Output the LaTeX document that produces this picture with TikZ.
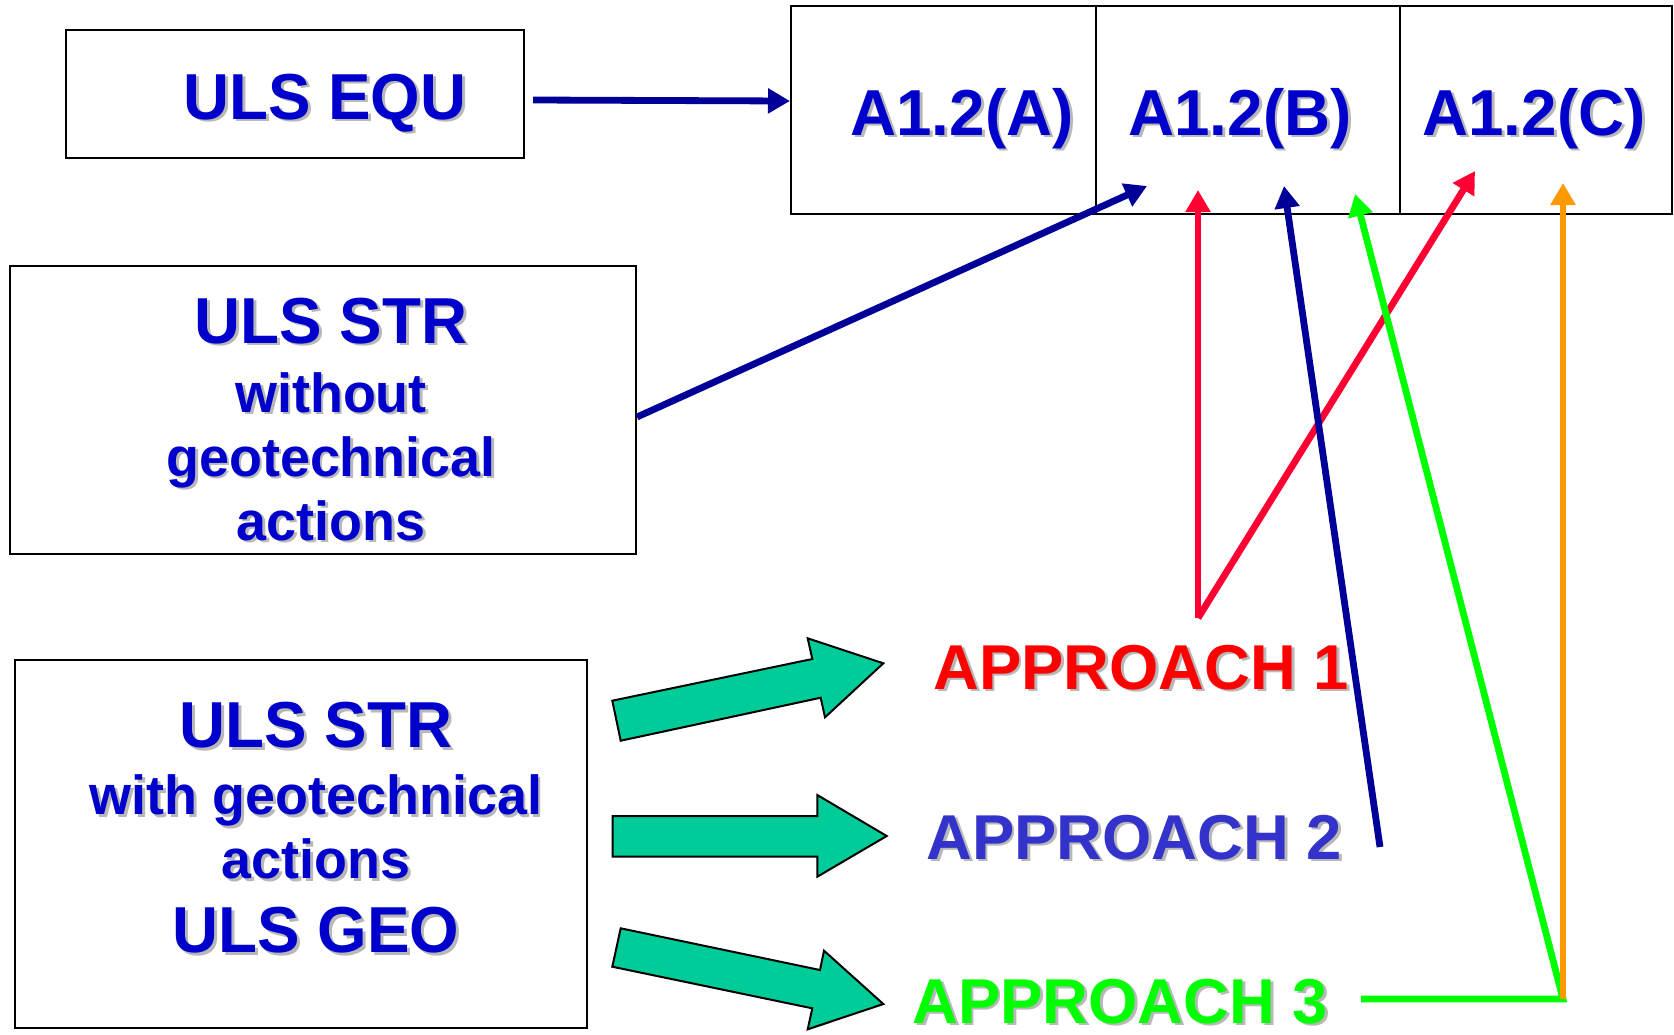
\documentclass[tikz,border=0pt]{standalone}
\usepackage{fontspec}
\setmainfont{Liberation Sans}[FakeStretch=0.98]
\newfontfamily\apfont{Liberation Sans}
\usetikzlibrary{arrows.meta}
\definecolor{txtblue}{HTML}{0000CC}
\definecolor{cNavy}{HTML}{000099}
\definecolor{cRedTxt}{HTML}{FF0000}
\definecolor{cRed}{HTML}{FF0033}
\definecolor{cViolet}{HTML}{3333CC}
\definecolor{cGreen}{HTML}{00FF00}
\definecolor{cOrange}{HTML}{FF9900}
\definecolor{cBlock}{HTML}{00CC99}
\definecolor{shgray}{HTML}{B8B8B8}
\newcommand\shd[1]{\leavevmode\rlap{\kern1.4pt\raisebox{-1.4pt}{\color{shgray}#1}}#1}
\begin{document}
\begin{tikzpicture}[x=0.5pt,y=-0.5pt,
  box/.style={draw=black,line width=1pt,inner sep=0pt},
  big/.style={font=\bfseries\fontsize{32.5}{32}\selectfont,text=txtblue,inner sep=0pt},
  small/.style={font=\bfseries\fontsize{27.5}{32}\selectfont,text=txtblue,inner sep=0pt,align=center},
  appr/.style={font=\apfont\bfseries\fontsize{31.7}{32}\selectfont,inner sep=0pt,anchor=base west},
  conn/.style={line width=3.4pt,-{Triangle[length=11pt,width=12pt]}},
  blockarrow/.style={fill=cBlock,draw=black,line width=1pt,line join=miter}]
\useasboundingbox (0,0) rectangle (1674,1034);
% top-left box
\node[box,minimum width=229pt,minimum height=64pt] (e1) at (295,94) {};
\node[big,anchor=base] (e1t) at (325,119) {\shd{ULS EQU}};
% table
\node[box,minimum width=152.5pt,minimum height=104pt] (cA) at (943.5,110) {};
\node[box,minimum width=152pt,minimum height=104pt] (cB) at (1248,110) {};
\node[box,minimum width=136pt,minimum height=104pt] (cC) at (1536,110) {};
\node[big,anchor=base] (tA) at (962,135) {\shd{A1.2(A)}};
\node[big,anchor=base] (tB) at (1240,135) {\shd{A1.2(B)}};
\node[big,anchor=base] (tC) at (1534,135) {\shd{A1.2(C)}};
% ULS STR without
\node[box,minimum width=313pt,minimum height=144pt] (s2) at (323,410) {};
\node[small] (s2t) at (331,420.5) {{\fontsize{32.5}{32}\selectfont\shd{ULS STR}}\\[2.5pt]\shd{without}\\\shd{geotechnical}\\\shd{actions}};
% ULS STR with
\node[box,minimum width=286pt,minimum height=184pt] (s3) at (301,844) {};
\node[small] (s3t) at (316,829) {{\fontsize{32.5}{32}\selectfont\shd{ULS STR}}\\[1.5pt]\shd{with geotechnical}\\\shd{actions}\\[5pt]{\fontsize{32.5}{32}\selectfont\shd{ULS GEO}}};
% approaches
\node[appr,text=cRedTxt] (ap1) at (933,689) {\shd{APPROACH 1}};
\node[appr,text=cViolet] (ap2) at (926,859) {\shd{APPROACH 2}};
\node[appr,text=cGreen] (ap3) at (912,1023) {\shd{APPROACH 3}};
% block arrows
\draw[blockarrow] (612.3,700.7) -- (812.3,659) -- (807.7,638.3) -- (883.3,663.3) -- (825,717.3) -- (820.7,697.7) -- (620.7,740.7) -- cycle;
\draw[blockarrow] (612.7,816) -- (817.3,816) -- (817.3,795) -- (886.7,836) -- (817.3,876.7) -- (817.3,856.7) -- (612.7,856.7) -- cycle;
\draw[blockarrow] (620.7,928.3) -- (820,970) -- (824,950.7) -- (883.3,1004) -- (807.7,1029.3) -- (812.3,1008.3) -- (612.3,966.7) -- cycle;
% connector coordinates
\coordinate (tB1) at (1147,186);
\coordinate (r0) at (1198,618);
\coordinate (tB2) at (1198,190);
\coordinate (tC1) at (1475,171);
\coordinate (n0) at (1380,847);
\coordinate (tB3) at (1284,186);
\coordinate (g0) at (1361,999);
\coordinate (g1) at (1563,999);
\coordinate (tB4) at (1355,194);
\coordinate (tC2) at (1563,183);
% connectors
\draw[conn,cNavy] ([xshift=4pt,yshift=-3pt]e1.east) -- ([yshift=4.5pt]cA.west);
\draw[conn,cNavy] ([yshift=-3.5pt]s2.east) -- (tB1);
\draw[conn,cRed] (r0) -- (tB2);
\draw[conn,cRed] (r0) -- (tC1);
\draw[conn,cNavy] (n0) -- (tB3);
\draw[conn,cGreen] (g0) -- (g1) -- (tB4);
\draw[conn,cOrange] (g1) -- (tC2);
\end{tikzpicture}
\end{document}
